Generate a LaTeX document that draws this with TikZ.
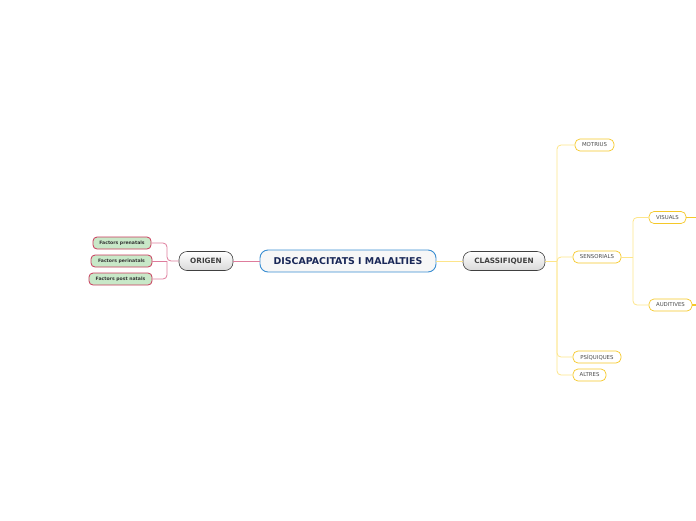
\documentclass[tikz,border=0pt]{standalone}
\usepackage{fontspec}
\setmainfont{DejaVu Sans}
\definecolor{pinkln}{HTML}{DE7C9C}
\definecolor{factbd}{HTML}{C8385A}
\definecolor{factfl}{HTML}{C8E8C8}
\definecolor{yelln}{HTML}{FDE58A}
\definecolor{yellbd}{HTML}{F5C828}
\definecolor{mainbd}{HTML}{3A8ED2}
\definecolor{maintx}{HTML}{1A2858}
\begin{document}
\begin{tikzpicture}[x=1pt,y=-1pt,
  mainbox/.style={draw=mainbd,line width=.9pt,fill=gray!6,rounded corners=8pt,
    minimum width=176pt,minimum height=22pt,inner sep=0pt,
    font=\fontsize{9.4}{10}\selectfont\bfseries,text=maintx},
  greybox/.style={draw=black!75,line width=.6pt,top color=white,bottom color=gray!30,
    rounded corners=8pt,minimum height=19pt,inner sep=0pt,
    font=\fontsize{7.3}{8}\selectfont\bfseries,text=black!75},
  factbox/.style={draw=factbd,line width=.8pt,fill=factfl,rounded corners=4pt,
    minimum height=12pt,inner sep=0pt,font=\fontsize{4.6}{5}\selectfont\bfseries,text=black!80},
  leafbox/.style={draw=yellbd,line width=.7pt,fill=white,rounded corners=5pt,
    minimum height=12pt,inner sep=0pt,font=\fontsize{5.4}{6}\selectfont,text=black!70},
  pinkwire/.style={draw=pinkln,line width=.8pt,rounded corners=4pt},
  yellwire/.style={draw=yelln,line width=.8pt,rounded corners=4pt}]

\useasboundingbox (0,0) rectangle (696,520);

% centre
\node[mainbox] (main) at (348,261) {DISCAPACITATS I MALALTIES};

% left side
\node[greybox,minimum width=54pt] (origen) at (206,261) {ORIGEN};
\node[factbox,minimum width=58pt] (prenat) at (122,243) {Factors prenatals};
\node[factbox,minimum width=61pt] (perinat) at (121.5,261) {Factors perinatals};
\node[factbox,minimum width=63pt] (postnat) at (120.5,279) {Factors post natals};
\coordinate (oj) at (167,261);

\draw[pinkwire] (main.west) -- (origen.east);
\draw[pinkwire] (origen.west) -- (oj) |- (prenat.east);
\draw[pinkwire] (oj) -- (perinat.east);
\draw[pinkwire] (oj) |- (postnat.east);

% right side
\node[greybox,minimum width=82pt] (classif) at (504,261) {CLASSIFIQUEN};
\node[leafbox,minimum width=39pt] (motrius) at (594.5,145) {MOTRIUS};
\node[leafbox,minimum width=48pt] (sensor) at (597,257) {SENSORIALS};
\node[leafbox,minimum width=48pt] (psiqu) at (597,357) {PSÍQUIQUES};
\node[leafbox,minimum width=33pt] (altres) at (589.5,375) {ALTRES};
\coordinate (cj) at (557,261);

\draw[yellwire] (main.east) -- (classif.west);
\draw[yellwire] (classif.east) -- (cj);
\draw[yellwire] (cj) |- (motrius.west);
\draw[yellwire] (cj) |- (sensor.west);
\draw[yellwire] (cj) |- (psiqu.west);
\draw[yellwire] (cj) |- (altres.west);

% sensorials
\node[leafbox,minimum width=37pt] (visuals) at (667.5,217.5) {VISUALS};
\node[leafbox,minimum width=43pt] (auditiv) at (670.5,305) {AUDITIVES};
\coordinate (sj) at (633,257);
\coordinate (vend) at (697,217.5);
\coordinate (aend) at (697,305);

\draw[yellwire] (sensor.east) -- (sj);
\draw[yellwire] (sj) |- (visuals.west);
\draw[yellwire] (sj) |- (auditiv.west);
\draw[draw=yellbd,line width=1.2pt] (visuals.east) -- (vend);
\draw[draw=yellbd,line width=1.2pt] (auditiv.east) -- (aend);

\end{tikzpicture}
\end{document}
